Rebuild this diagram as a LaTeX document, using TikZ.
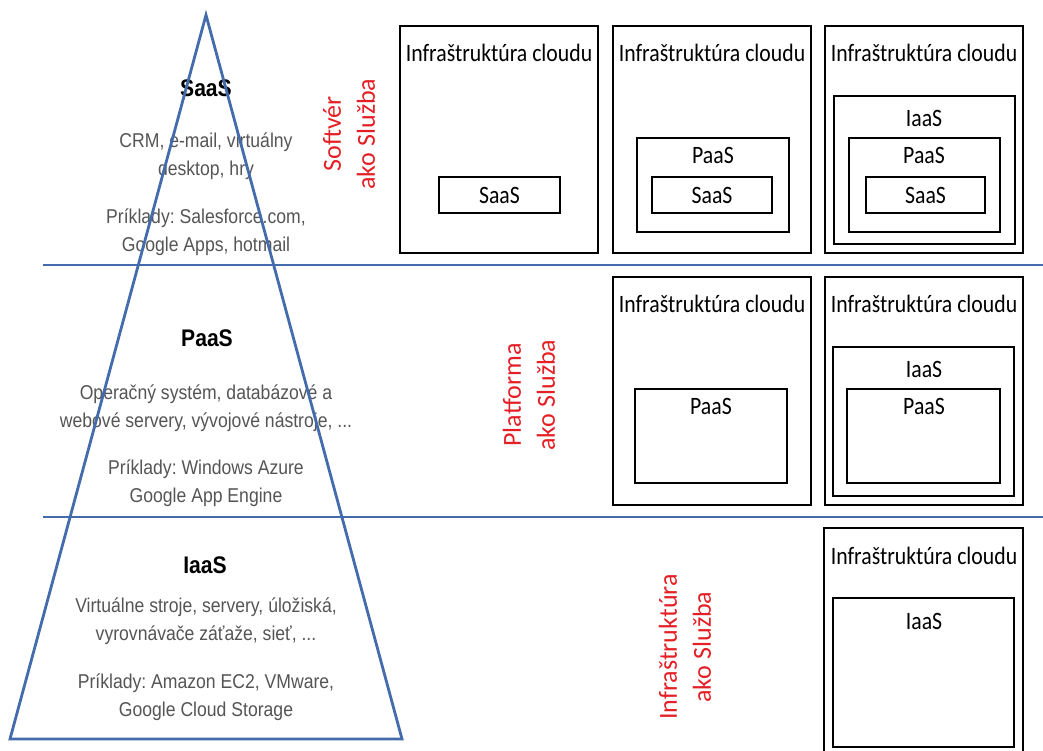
\documentclass[tikz,border=0pt]{standalone}
\usepackage{fontspec}
\setmainfont{Liberation Sans}
\newfontfamily\ariN[FakeStretch=0.88]{Liberation Sans}
\newfontfamily\calN[FakeStretch=0.87]{Carlito}
\newfontfamily\calR{Carlito}
\definecolor{lineblue}{RGB}{68,108,172}
\definecolor{lblred}{RGB}{228,32,38}
\definecolor{txtgray}{RGB}{85,85,85}
\frenchspacing
\begin{document}
\begin{tikzpicture}[x=1pt,y=-1pt,
  cbox/.style={draw=black, line width=2.9pt, inner sep=0pt, outer sep=0pt, anchor=north west},
  ttl/.style={font=\calN\fontsize{25}{30}\selectfont, inner sep=0pt},
  desc/.style={font=\ariN\fontsize{20}{28}\selectfont, text=txtgray, align=center, inner sep=0pt},
  head/.style={font=\ariN\bfseries\fontsize{24}{28}\selectfont, inner sep=0pt},
  redlbl/.style={font=\calR\fontsize{26}{34}\selectfont, text=lblred, align=center, rotate=90, inner sep=0pt},
  blueline/.style={draw=lineblue, line width=2.8pt}]
\fill[white] (0,0) rectangle (1043,751);
\useasboundingbox (0,0) rectangle (1043,751);

% ---------- pyramid texts ----------
\node[head] (hs) at (206,88) {SaaS};
\node[desc] (d1) at (206,156) {CRM, e-mail, virtuálny\\desktop, hry};
\node[desc] (d2) at (206,232) {Príklady: Salesforce.com,\\Google Apps, hotmail};
\node[head] (hp) at (207,338) {PaaS};
\node[desc] (d3) at (206,408) {Operačný systém, databázové a\\webové servery, vývojové nástroje, ...};
\node[desc] (d4) at (206,483) {Príklady: Windows Azure\\Google App Engine};
\node[head] (hi) at (205,565) {IaaS};
\node[desc] (d5) at (206,621) {Virtuálne stroje, servery, úložiská,\\vyrovnávače záťaže, sieť, ...};
\node[desc] (d6) at (206,697) {Príklady: Amazon EC2, VMware,\\Google Cloud Storage};

% ---------- pyramid and separators ----------
\coordinate (apex) at (206,15);
\coordinate (bl) at (10,739);
\coordinate (br) at (402,739);
\draw[blueline, line join=miter] (apex) -- (bl) -- (br) -- cycle;
\coordinate (s1l) at (43,265);
\coordinate (s1r) at (1043,265);
\coordinate (s2l) at (43,517);
\coordinate (s2r) at (1043,517);
\draw[blueline] (s1l) -- (s1r);
\draw[blueline] (s2l) -- (s2r);

% ---------- red labels ----------
\node[redlbl] (rs) at (349,134) {Softvér\\ako Služba};
\node[redlbl] (rp) at (529,395) {Platforma\\ako Služba};
\node[redlbl] (ri) at (685,647) {Infraštruktúra\\ako Služba};

% ---------- top row ----------
\node[cbox, minimum width=198pt, minimum height=227pt] (b1) at (400,26) {};
\node[ttl] (t1) at (499,53) {Infraštruktúra cloudu};
\node[cbox, minimum width=121pt, minimum height=36pt] (s1) at (439,177) {};
\node[ttl] at (s1.center) {SaaS};

\node[cbox, minimum width=198pt, minimum height=227pt] (b2) at (613,26) {};
\node[ttl] (t2) at (712,53) {Infraštruktúra cloudu};
\node[cbox, minimum width=152pt, minimum height=94pt] (p2) at (637,138) {};
\node[ttl] (lp2) at (713,155) {PaaS};
\node[cbox, minimum width=120pt, minimum height=36pt] (s2) at (652,177) {};
\node[ttl] at (s2.center) {SaaS};

\node[cbox, minimum width=198pt, minimum height=227pt] (b3) at (825,26) {};
\node[ttl] (t3) at (924,53) {Infraštruktúra cloudu};
\node[cbox, minimum width=181pt, minimum height=148pt] (i3) at (834,96) {};
\node[ttl] (li3) at (924,118) {IaaS};
\node[cbox, minimum width=151pt, minimum height=94pt] (p3) at (849,138) {};
\node[ttl] (lp3) at (924,155) {PaaS};
\node[cbox, minimum width=119pt, minimum height=36pt] (s3) at (866,177) {};
\node[ttl] at (s3.center) {SaaS};

% ---------- middle row ----------
\node[cbox, minimum width=198pt, minimum height=228pt] (b4) at (613,277) {};
\node[ttl] (t4) at (712,304) {Infraštruktúra cloudu};
\node[cbox, minimum width=152pt, minimum height=94pt] (p4) at (635,389) {};
\node[ttl] (lp4) at (711,406) {PaaS};

\node[cbox, minimum width=198pt, minimum height=228pt] (b5) at (825,277) {};
\node[ttl] (t5) at (924,304) {Infraštruktúra cloudu};
\node[cbox, minimum width=181pt, minimum height=149pt] (i5) at (833,347) {};
\node[ttl] (li5) at (924,369) {IaaS};
\node[cbox, minimum width=153pt, minimum height=94pt] (p5) at (847,389) {};
\node[ttl] (lp5) at (924,406) {PaaS};

% ---------- bottom row ----------
\node[cbox, minimum width=199pt, minimum height=242pt] (b6) at (824,528) {};
\node[ttl] (t6) at (924,556) {Infraštruktúra cloudu};
\node[cbox, minimum width=181pt, minimum height=149pt] (i6) at (833,598) {};
\node[ttl] (li6) at (924,621) {IaaS};
\end{tikzpicture}
\end{document}
